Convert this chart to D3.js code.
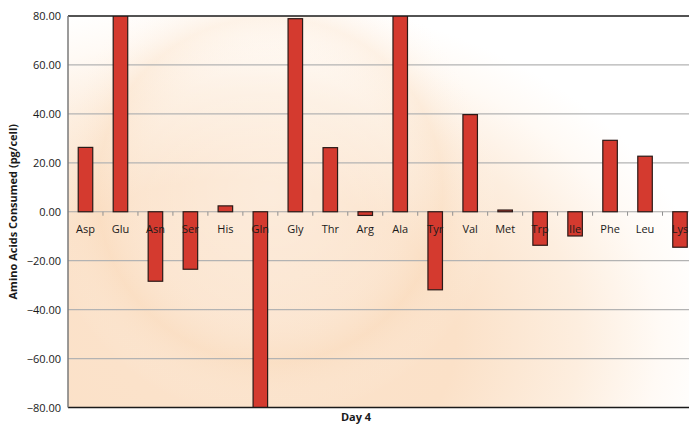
<!DOCTYPE html>
<html>
<head>
<meta charset="utf-8">
<script src="https://cdn.jsdelivr.net/npm/d3@7"></script>
<style>
  body { margin: 0; background: #fff; }
  text { font-family: "Open Sans", "Noto Sans", sans-serif; }
</style>
</head>
<body>
<script>
const aminoAcids = ["Asp", "Glu", "Asn", "Ser", "His", "Gln", "Gly", "Thr", "Arg",
  "Ala", "Tyr", "Val", "Met", "Trp", "Ile", "Phe", "Leu", "Lys"];
const consumed = [26.3, 84, -28.4, -23.5, 2.4, -84, 78.9, 26.2, -1.5,
  84, -31.9, 39.7, 0.7, -13.7, -9.9, 29.2, 22.7, -14.5];
const yTicks = [80, 60, 40, 20, 0, -20, -40, -60, -80];

const data = aminoAcids.map((name, i) => ({ name, value: consumed[i] }));

const W = 689, H = 424;
// plot area runs past the right edge of the window, like the original
const margin = { top: 16, left: 68, plotRight: 697.5, bottom: 407.5 };

const svg = d3.select("body").append("svg")
  .attr("width", W).attr("height", H);

const defs = svg.append("defs");
const bg = defs.append("radialGradient").attr("id", "bg")
  .attr("gradientUnits", "userSpaceOnUse")
  .attr("cx", 230).attr("cy", 340).attr("r", 470)
  .attr("gradientTransform", "translate(230,340) scale(1.2,0.85) translate(-230,-340)");
bg.append("stop").attr("offset", "0%").attr("stop-color", "#fbe3cc");
bg.append("stop").attr("offset", "40%").attr("stop-color", "#fbe1c8");
bg.append("stop").attr("offset", "62%").attr("stop-color", "#fdeedf");
bg.append("stop").attr("offset", "76%").attr("stop-color", "#fffaf5");
bg.append("stop").attr("offset", "86%").attr("stop-color", "#ffffff");
const rg = defs.append("radialGradient").attr("id", "ring")
  .attr("gradientUnits", "userSpaceOnUse")
  .attr("cx", 270).attr("cy", 190).attr("r", 230);
rg.append("stop").attr("offset", "0%").attr("stop-color", "#fff").attr("stop-opacity", 0.35);
rg.append("stop").attr("offset", "55%").attr("stop-color", "#fff").attr("stop-opacity", 0.15);
rg.append("stop").attr("offset", "75%").attr("stop-color", "#f9d6b3").attr("stop-opacity", 0.25);
rg.append("stop").attr("offset", "100%").attr("stop-color", "#fff").attr("stop-opacity", 0);

const x = d3.scaleBand()
  .domain(aminoAcids)
  .range([margin.left, margin.plotRight])
  .paddingInner(0.585).paddingOuter(0.2925);
const xb = d3.scaleBand().domain(aminoAcids).range([margin.left, margin.plotRight]);
const y = d3.scaleLinear().domain([-80, 80]).range([margin.bottom, margin.top]);

const pw = margin.plotRight - margin.left, ph = margin.bottom - margin.top;
svg.append("rect").attr("x", margin.left).attr("y", margin.top)
  .attr("width", pw).attr("height", ph).attr("fill", "url(#bg)");
svg.append("rect").attr("x", margin.left).attr("y", margin.top)
  .attr("width", pw).attr("height", ph).attr("fill", "url(#ring)");

// gridlines
svg.append("g").selectAll("line")
  .data(yTicks.filter((d) => d !== 80 && d !== -80 && d !== 0))
  .enter().append("line")
  .attr("x1", margin.left).attr("x2", margin.plotRight)
  .attr("y1", (d) => y(d)).attr("y2", (d) => y(d))
  .attr("stroke", "#b3b3b3").attr("stroke-width", 1.2);

// y axis labels
const yAxis = d3.axisLeft(y).tickValues(yTicks).tickSize(0).tickPadding(7)
  .tickFormat(d3.format(".2f"));
const gy = svg.append("g").attr("transform", `translate(${margin.left},0)`).call(yAxis);
gy.select(".domain").remove();
gy.selectAll("text").attr("font-size", 11).attr("fill", "#1a1a1a")
  .style("font-family", "'Open Sans', sans-serif");

// zero line with tick marks
const g0 = svg.append("g");
g0.append("line").attr("x1", margin.left).attr("x2", margin.plotRight)
  .attr("y1", y(0)).attr("y2", y(0)).attr("stroke", "#a8a8a8").attr("stroke-width", 1.2);
g0.selectAll("line.tk").data(aminoAcids.slice(1)).enter().append("line")
  .attr("class", "tk")
  .attr("x1", (d) => xb(d)).attr("x2", (d) => xb(d))
  .attr("y1", y(0)).attr("y2", y(0) + 4)
  .attr("stroke", "#909090").attr("stroke-width", 1);

// bars
svg.append("defs").append("clipPath").attr("id", "plotclip")
  .append("rect").attr("x", margin.left).attr("y", margin.top)
  .attr("width", pw).attr("height", ph);
svg.append("g").attr("clip-path", "url(#plotclip)")
  .selectAll("rect").data(data).enter().append("rect")
  .attr("x", (d) => x(d.name))
  .attr("width", x.bandwidth())
  .attr("y", (d) => y(Math.max(0, d.value)))
  .attr("height", (d) => Math.abs(y(d.value) - y(0)))
  .attr("fill", "#d43a2f")
  .attr("stroke", "#2b1a17").attr("stroke-width", 1.2);

// category labels
svg.append("g").selectAll("text").data(data).enter().append("text")
  .attr("x", (d) => xb(d.name) + xb.bandwidth() / 2)
  .attr("y", y(0) + 21)
  .attr("text-anchor", "middle")
  .attr("font-size", 11).attr("fill", "#1a1a1a")
  .text((d) => d.name);

// frame
svg.append("line").attr("x1", margin.left).attr("x2", margin.plotRight)
  .attr("y1", margin.top).attr("y2", margin.top)
  .attr("stroke", "#1a1a1a").attr("stroke-width", 1.5);
svg.append("line").attr("x1", margin.left).attr("x2", margin.plotRight)
  .attr("y1", margin.bottom).attr("y2", margin.bottom)
  .attr("stroke", "#1a1a1a").attr("stroke-width", 1.5);
svg.append("line").attr("x1", margin.left).attr("x2", margin.left)
  .attr("y1", margin.top).attr("y2", margin.bottom)
  .attr("stroke", "#7a7a7a").attr("stroke-width", 1.5);

// titles
svg.append("text")
  .attr("transform", `translate(17,${(margin.top + margin.bottom) / 2}) rotate(-90)`)
  .attr("text-anchor", "middle")
  .attr("font-size", 11).attr("font-weight", 700).attr("fill", "#1a1a1a")
  .text("Amino Acids Consumed (pg/cell)");
svg.append("text")
  .attr("x", 356).attr("y", 421)
  .attr("text-anchor", "middle")
  .attr("font-size", 11).attr("font-weight", 700).attr("fill", "#1a1a1a")
  .text("Day 4");
</script>
</body>
</html>
